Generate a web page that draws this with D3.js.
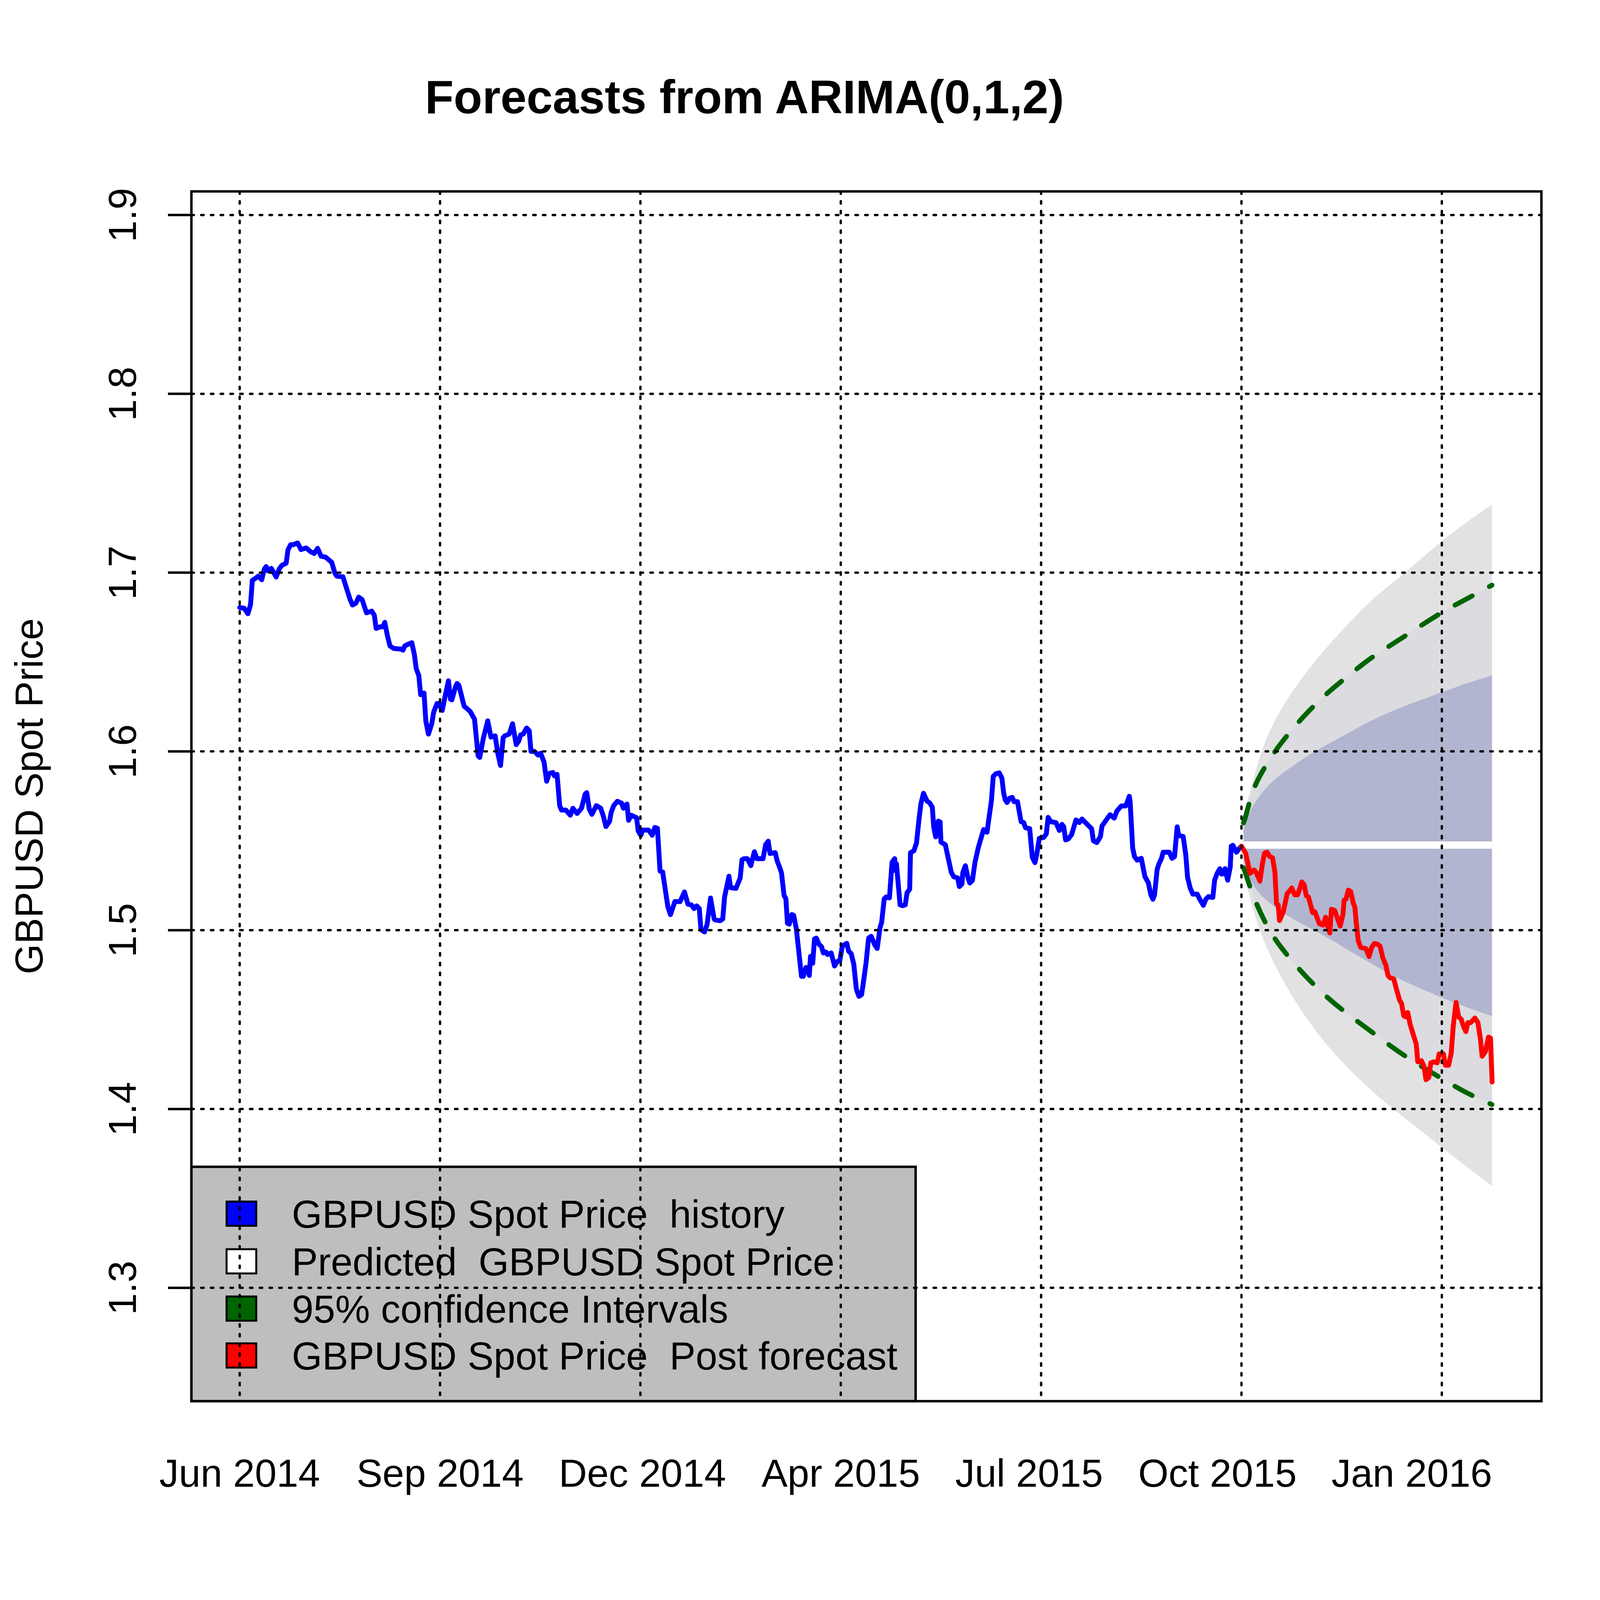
<!DOCTYPE html>
<html><head><meta charset="utf-8">
<script src="https://cdn.jsdelivr.net/npm/d3@7"></script>
<style>html,body{margin:0;padding:0;background:#fff}</style>
</head><body>
<script>
// ---------- DATA ----------
// x is the day index of the series (0 = Jun 2014)
const history = [[0,1.6805],[2.3,1.680],[4.1,1.677],[5.4,1.682],[6.3,1.6956],[7.6,1.6966],[9.3,1.698],[11,1.696],[12.3,1.702],[13.2,1.7034],[14.1,1.701],[15.8,1.7024],[18.2,1.6975],[19.7,1.702],[21,1.704],[23.2,1.7053],[24.1,1.7127],[25.4,1.7156],[26.7,1.7156],[28.9,1.7166],[30.6,1.7129],[33.2,1.7138],[35.4,1.7117],[37.2,1.7107],[38.9,1.7136],[40.6,1.7092],[42.8,1.7087],[45.9,1.7058],[47.6,1.6995],[48.5,1.698],[51.5,1.6977],[52.8,1.6931],[55,1.6853],[56.3,1.6819],[58,1.6829],[59.4,1.6863],[61.1,1.6849],[63.3,1.6775],[65.9,1.6785],[67.2,1.6761],[68.1,1.6688],[70.2,1.6697],[71.5,1.6697],[72.4,1.6722],[73.7,1.6649],[75,1.659],[76.8,1.6576],[80.7,1.6572],[81.5,1.6566],[82.4,1.659],[84.2,1.66],[85.9,1.6608],[87.2,1.6541],[88.1,1.6463],[89.4,1.6424],[90.3,1.6317],[92,1.6327],[92.9,1.617],[94.2,1.6097],[95.9,1.6156],[96.8,1.6219],[98.5,1.6268],[99.4,1.6268],[101.1,1.6229],[102.4,1.6302],[104.2,1.6395],[105.2,1.6292],[105.9,1.6288],[107.7,1.6361],[108.5,1.638],[109.4,1.637],[110.7,1.6312],[112,1.6253],[115,1.6224],[117.2,1.618],[119,1.5975],[119.8,1.5966],[121.6,1.6073],[123.8,1.6171],
[125.4,1.608],[127.5,1.6087],[128.8,1.599],[130.2,1.5921],[131.5,1.6077],[132.3,1.6087],[134.5,1.6097],[136.2,1.6155],[138,1.6038],[139.3,1.6058],[140.2,1.6092],[141.5,1.6097],[143.2,1.6131],[144.5,1.6116],[145.4,1.6],[147.1,1.6],[148.9,1.598],[150.2,1.599],[151.9,1.5941],[153.2,1.5833],[154.5,1.5877],[156.3,1.5882],[157.1,1.5863],[158.4,1.5872],[159.7,1.5697],[160.6,1.5672],[162.8,1.5672],[165,1.5643],[166.3,1.5682],[168.4,1.5653],[170.6,1.5682],[172.4,1.576],[173.2,1.577],[174.5,1.5677],[175.8,1.5648],[178,1.5697],[180.2,1.5682],[181.5,1.5638],[182.8,1.558],[184.6,1.5609],[185.4,1.5658],[186.7,1.5697],[188.5,1.5721],[190.6,1.5711],[191.5,1.5682],[193.3,1.5706],[194.1,1.5614],[195.4,1.5643],[198.1,1.5629],[198.9,1.5555],[200.2,1.5531],[201.1,1.556],[204.1,1.556],[205.9,1.5531],[207.2,1.5575],[208.5,1.557],[209.8,1.5331],[211.1,1.5326],[213.7,1.5131],[215,1.5087],[217.2,1.516],[219.8,1.516],[222,1.5214],[223.7,1.5146],[225.5,1.5141],[226.8,1.5121],[228.1,1.5136],[229.4,1.5121],[230.2,1.5004],[232,1.499],[233.3,1.5033],[235,1.518],[236.8,1.5063],[237.2,1.5058],[239.8,1.5053],[241.1,1.5063],[242,1.5185],[244.2,1.5302],[245,1.5238],[247.7,1.5234],[249.8,1.5292],[250.7,1.5394],
[251.7,1.54],[253.4,1.54],[255.1,1.5361],[256.9,1.5439],[258.2,1.54],[261.2,1.54],[262.5,1.5478],[263.8,1.5498],[264.7,1.5429],[267.3,1.5434],[268.2,1.539],[269.5,1.5351],[270.4,1.5322],[271.7,1.5195],[272.6,1.5176],[273.4,1.5039],[274.3,1.5034],[275.6,1.5088],[276.5,1.5083],[277.8,1.501],[280.4,1.4742],[281.3,1.4742],[282.6,1.4791],[283.4,1.4791],[284.3,1.4747],[284.9,1.4854],[286,1.4815],[286.9,1.4951],[287.8,1.4956],[289.1,1.4922],[290.4,1.4908],[291.3,1.4873],[292.6,1.4878],[293.4,1.4864],[295.2,1.4873],[296.9,1.48],[298.2,1.4825],[299.5,1.4829],[300.8,1.4912],[303,1.4927],[303.9,1.4883],[305.2,1.4869],[306.5,1.481],[307.8,1.4669],[309.1,1.463],[310.4,1.464],[311.3,1.4708],[312.6,1.4815],[313.9,1.4956],[315.2,1.4966],[317,1.4917],[318.2,1.4898],[319.6,1.5015],[320.4,1.5044],[321.7,1.5176],[322.6,1.5186],[324.3,1.5181],[325.6,1.538],[326.9,1.54],[327.4,1.5332],[327.8,1.5371],[329.6,1.5142],[330.9,1.5137],[332.2,1.5142],[333.1,1.521],[334.4,1.5229],[334.8,1.5434],[336.5,1.5444],[337.8,1.5488],[339.1,1.5625],[340,1.5707],[341.3,1.5766],[343.1,1.5722],[344.4,1.5712],[345.7,1.5688],[346.4,1.5576],[347.4,1.5522],[348.7,1.561],[349.6,1.5605],[350,1.5493],[352.2,1.5478],[353.5,1.541],[355.2,1.5322],[356.5,1.5298],[358.3,1.5293],[359.2,1.5244],[360.5,1.5259],[360.9,1.5322],[362.2,1.5361],[363.5,1.5293],[364.4,1.5264],[365.7,1.5278],[367,1.538],
[368.6,1.546],[370,1.5514],[371.3,1.5563],[373,1.5548],[373.9,1.5622],[375.2,1.5724],[376.1,1.586],[377.4,1.5875],[379.1,1.588],[380.4,1.5851],[381.3,1.5768],[382.1,1.5729],[383,1.5714],[384.3,1.5738],[385.6,1.5743],[386.5,1.5719],[388.2,1.5719],[390,1.5607],[391.3,1.5602],[392.2,1.5573],[394.3,1.5568],[395.6,1.5407],[396.9,1.5378],[397.8,1.5422],[399.1,1.5514],[401.3,1.5519],[402.6,1.5539],[403.5,1.5631],[404.8,1.5607],[407.4,1.5602],[409.1,1.5558],[410.4,1.5592],[411.3,1.5578],[412.2,1.5505],[413.5,1.551],[415.2,1.5534],[417.4,1.5617],[419.1,1.5602],[420.4,1.5622],[422.6,1.5597],[425.2,1.5568],[426.1,1.55],[427.8,1.549],[429.6,1.5524],[430.4,1.5583],[432.2,1.5612],[434.4,1.5646],[436.5,1.5627],[437.8,1.5666],[440,1.5695],[442.2,1.5695],[443.1,1.572],[444,1.5749],[444.4,1.5724],[445.7,1.546],[446.6,1.5412],[447.9,1.5392],[450,1.5402],[451.8,1.53],[453.5,1.5266],[454.8,1.5197],[455.8,1.5173],[456.6,1.5197],[457.9,1.5339],[458.7,1.5368],[460.1,1.5402],[460.9,1.5436],[462.7,1.5436],[464,1.5436],[465.3,1.5402],[466.6,1.5412],[467.9,1.5578],[468.7,1.5529],[470.9,1.5524],[472.2,1.5422],[473.1,1.5295],[474.4,1.5236],[475.7,1.5202],[477.9,1.5202],[479.2,1.5173],[481,1.5139],[482.2,1.5173],[483.5,1.5188],[485.7,1.5183],[486.6,1.528],[487.9,1.5319],[489.2,1.5344],[490.1,1.5314],[491.4,1.5319],[491.8,1.5344],[493.1,1.528],[494.4,1.5353],[494.9,1.547],[495.7,1.5475],[497.5,1.5436],[498.8,1.5456],[500,1.547]];

const postForecast = [[500,1.547],[502.1,1.543],[503.1,1.538],[504.2,1.5318],[506.3,1.5337],[507.3,1.5324],[509.2,1.5274],[510.4,1.5368],[511.5,1.543],[512.7,1.5437],[514.1,1.5412],[515.5,1.5405],[516.7,1.5324],[517.5,1.5148],[518.3,1.5142],[519,1.5054],[520.9,1.5104],[522.8,1.5205],[523.8,1.5217],[525.1,1.5236],[526.6,1.5198],[528,1.5198],[529,1.523],[530.1,1.527],[531.3,1.5255],[532.4,1.5192],[533.4,1.5186],[534.5,1.5142],[535.5,1.5098],[536.6,1.5104],[538.9,1.5036],[540.7,1.5029],[542,1.5073],[542.8,1.5029],[544.1,1.4985],[544.9,1.5117],[546.5,1.5111],[548.1,1.506],[549.3,1.5023],[550.7,1.5092],[551.2,1.5167],[552.2,1.5174],[553.3,1.5224],[554.5,1.5217],[555.9,1.5148],[556.6,1.5129],[557.4,1.5029],[558.3,1.4941],[559.5,1.4904],[562.1,1.4897],[563.7,1.4853],[565,1.4904],[566.3,1.4926],[567.9,1.4922],[569.2,1.491],[570.5,1.4847],[572.1,1.4803],[573.1,1.4747],[574.2,1.4734],[576,1.4728],[577.3,1.4672],[578.9,1.4609],[579.9,1.459],[581,1.4521],[582,1.4515],[583,1.454],[584.1,1.4477],[585.6,1.4421],[587.2,1.4364],[588,1.4264],[589.8,1.427],[591.1,1.4239],[592.1,1.4164],[593.5,1.4176],[594.5,1.4258],[596.1,1.4264],[597.7,1.4258],[598.7,1.4308],[600.8,1.4308],[601.8,1.4245],[603.4,1.4245],[604.7,1.4314],[605.7,1.4465],[607.1,1.4596],[608.4,1.4515],[609.7,1.4502],[610.7,1.4465],[612,1.4433],[613,1.4483],[614.4,1.4483],[616.5,1.4509],[618,1.4483],[619.3,1.4389],[620.1,1.4295],[621.7,1.432],[623.3,1.4402],[624.3,1.4396],[625.1,1.4151]];

const bandDays = [501, 502, 504, 507, 511, 516, 522, 532, 543, 553, 564, 574, 585, 600, 612, 625];
const hi99 = [1.564, 1.568, 1.577, 1.589, 1.604, 1.616, 1.628, 1.644, 1.659, 1.671, 1.684, 1.693, 1.703, 1.718, 1.728, 1.738];
const lo99 = [1.531, 1.528, 1.519, 1.507, 1.494, 1.482, 1.469, 1.451, 1.435, 1.423, 1.411, 1.4015, 1.392, 1.3785, 1.368, 1.357];
const hi95 = [1.560, 1.563, 1.572, 1.582, 1.590, 1.599, 1.608, 1.621, 1.633, 1.642, 1.652, 1.659, 1.667, 1.678, 1.685, 1.693];
const lo95 = [1.535, 1.532, 1.525, 1.516, 1.506, 1.496, 1.487, 1.474, 1.462, 1.453, 1.444, 1.4355, 1.427, 1.417, 1.409, 1.4025];
const hi80 = [1.556, 1.560, 1.566, 1.572, 1.578, 1.584, 1.589, 1.597, 1.604, 1.610, 1.617, 1.622, 1.627, 1.633, 1.638, 1.6425];
const lo80 = [1.539, 1.535, 1.529, 1.523, 1.518, 1.5135, 1.5086, 1.5025, 1.496, 1.489, 1.482, 1.4753, 1.4695, 1.4622, 1.457, 1.452];
const meanDays = [501, 625];
const meanVals = [1.5476, 1.5476];

const yTicks = [1.3, 1.4, 1.5, 1.6, 1.7, 1.8, 1.9];
const gridDays = [0, 100, 200, 300, 400, 500, 600];
const xLabelDays = [0, 100, 201, 300, 394, 488, 585];
const xLabels = ["Jun 2014", "Sep 2014", "Dec 2014", "Apr 2015", "Jul 2015", "Oct 2015", "Jan 2016"];
const legendLabels = ["GBPUSD Spot Price  history", "Predicted  GBPUSD Spot Price", "95% confidence Intervals", "GBPUSD Spot Price  Post forecast"];
const legendColors = ["#0000FF", "#FFFFFF", "#006400", "#FF0000"];
const titleText = "Forecasts from ARIMA(0,1,2)";
const yTitle = "GBPUSD Spot Price";

// ---------- DRAWING ----------
const W = 4200, H = 4200;
const L = 490, R = 3946, T = 490, B = 3587;
const FONT = "'Liberation Sans', Arial, Helvetica, sans-serif";
const svg = d3.select("body").append("svg").attr("width", W).attr("height", H).style("display", "block");
svg.append("rect").attr("width", W).attr("height", H).attr("fill", "#fff");

const x = d3.scaleLinear().domain([-24.1, 649.7]).range([L, R]);
const y = d3.scaleLinear().domain([1.2366, 1.9132]).range([B, T]);

svg.append("defs").append("clipPath").attr("id", "plotclip")
  .append("rect").attr("x", L).attr("y", T).attr("width", R - L).attr("height", B - T);
const plot = svg.append("g").attr("clip-path", "url(#plotclip)");

function band(lo, hi, color) {
  const pts = bandDays.map((d, i) => ({d, lo: lo[i], hi: hi[i]}));
  const area = d3.area().x(p => x(p.d)).y0(p => y(p.lo)).y1(p => y(p.hi)).curve(d3.curveBasis);
  plot.append("path").attr("d", area(pts)).attr("fill", color).attr("stroke", "none");
}
band(lo99, hi99, "#E2E2E2");
band(lo95, hi95, "#DBDBE0");
band(lo80, hi80, "#B1B5CF");

// predicted mean (white)
plot.append("path")
  .attr("d", d3.line().x((d, i) => x(meanDays[i])).y(d => y(d))(meanVals))
  .attr("fill", "none").attr("stroke", "#fff").attr("stroke-width", 18.75);

// 95% dashed lines
const dashLine = d3.line().x((d, i) => x(bandDays[i])).y(d => y(d)).curve(d3.curveBasis);
[hi95, lo95].forEach(arr => {
  plot.append("path").attr("d", dashLine(arr))
    .attr("fill", "none").attr("stroke", "#006400").attr("stroke-width", 12.5)
    .attr("stroke-dasharray", "50,50").attr("stroke-linecap", "round").attr("stroke-linejoin", "round");
});

const pLine = d3.line().x(d => x(d[0])).y(d => y(d[1]));
plot.append("path").attr("d", pLine(history)).attr("fill", "none").attr("stroke", "#0000FF")
  .attr("stroke-width", 12.5).attr("stroke-linejoin", "round").attr("stroke-linecap", "round");
plot.append("path").attr("d", pLine(postForecast)).attr("fill", "none").attr("stroke", "#FF0000")
  .attr("stroke-width", 12.5).attr("stroke-linejoin", "round").attr("stroke-linecap", "round");

// legend
const legTop = 2987;
svg.append("rect").attr("x", L).attr("y", legTop).attr("width", 2344 - L).attr("height", B - legTop)
  .attr("fill", "#BEBEBE").attr("stroke", "#000").attr("stroke-width", 6.25);
const rowY = [3107, 3229, 3350, 3470];
legendLabels.forEach((lab, i) => {
  svg.append("rect").attr("x", 580).attr("y", rowY[i] - 31).attr("width", 76).attr("height", 62)
    .attr("fill", legendColors[i]).attr("stroke", "#000").attr("stroke-width", 5);
  svg.append("text").attr("x", 747).attr("y", rowY[i] + 36).text(lab)
    .attr("font-family", FONT).attr("font-size", 100).attr("fill", "#000").style("white-space", "pre")
    .attr("xml:space", "preserve");
});

// grid (drawn on top, dotted)
const grid = svg.append("g").attr("stroke", "#000").attr("stroke-width", 6)
  .attr("stroke-dasharray", "6.25,18.75").attr("stroke-linecap", "round");
gridDays.forEach(d => grid.append("line").attr("x1", x(d)).attr("x2", x(d)).attr("y1", T).attr("y2", B));
yTicks.forEach(v => grid.append("line").attr("x1", L).attr("x2", R).attr("y1", y(v)).attr("y2", y(v)));

// box
svg.append("rect").attr("x", L).attr("y", T).attr("width", R - L).attr("height", B - T)
  .attr("fill", "none").attr("stroke", "#000").attr("stroke-width", 6.25);

// y axis ticks + labels
yTicks.forEach(v => {
  svg.append("line").attr("x1", L - 60).attr("x2", L).attr("y1", y(v)).attr("y2", y(v))
    .attr("stroke", "#000").attr("stroke-width", 6.25);
  svg.append("text").attr("transform", `translate(348,${y(v)}) rotate(-90)`)
    .attr("text-anchor", "middle").attr("font-family", FONT).attr("font-size", 100).text(d3.format(".1f")(v));
});

// x labels
xLabels.forEach((lab, i) => {
  svg.append("text").attr("x", x(xLabelDays[i])).attr("y", 3806).attr("text-anchor", "middle")
    .attr("font-family", FONT).attr("font-size", 100).text(lab);
});

// titles
svg.append("text").attr("x", 1906).attr("y", 290).attr("text-anchor", "middle")
  .attr("font-family", FONT).attr("font-weight", "bold").attr("font-size", 120).text(titleText);
svg.append("text").attr("transform", `translate(109,${(T + B) / 2}) rotate(-90)`)
  .attr("text-anchor", "middle").attr("font-family", FONT).attr("font-size", 100).text(yTitle);
</script>
</body></html>
